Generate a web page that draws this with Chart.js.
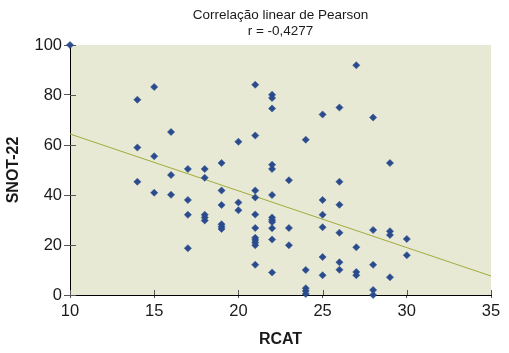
<!DOCTYPE html>
<html><head><meta charset="utf-8">
<script src="https://cdn.jsdelivr.net/npm/chart.js@4"></script>
<style>html,body{margin:0;padding:0;background:#fff}</style>
</head><body>
<canvas id="c" width="509" height="353"></canvas>
<script>
const titleLines = ['Correlação linear de Pearson', 'r = -0,4277'];
const xTitle = 'RCAT';
const yTitle = 'SNOT-22';
const xTicks = [10, 15, 20, 25, 30, 35];
const yTicks = [0, 20, 40, 60, 80, 100];

// RCAT values (x) and SNOT-22 values (y), one entry per patient
const rcat = [
  10,
  14, 14, 14,
  15, 15, 15,
  16, 16, 16,
  17, 17, 17, 17,
  18, 18, 18, 18, 18,
  19, 19, 19, 19, 19, 19,
  20, 20, 20,
  21, 21, 21, 21, 21, 21, 21, 21, 21, 21, 21,
  22, 22, 22, 22, 22, 22, 22, 22, 22, 22, 22, 22,
  23, 23, 23,
  24, 24, 24, 24, 24,
  25, 25, 25, 25, 25, 25,
  26, 26, 26, 26, 26, 26,
  27, 27, 27, 27,
  28, 28, 28, 28, 28,
  29, 29, 29, 29,
  30, 30
];
const snot = [
  100,
  78.1, 59.0, 45.3,
  83.2, 55.5, 40.9,
  65.2, 48.0, 40.1,
  50.4, 38.0, 32.1, 18.7,
  50.4, 46.9, 32.1, 31.0, 29.8,
  52.8, 41.8, 36.0, 28.3, 27.3, 26.4,
  61.3, 37.0, 33.9,
  84.1, 63.8, 41.8, 39.0, 32.2, 26.8, 22.9, 22.0, 21.0, 19.9, 12.1,
  80.1, 78.8, 74.6, 52.1, 50.4, 40.0, 31.0, 30.0, 29.2, 26.7, 22.2, 9.0,
  45.9, 26.8, 19.9,
  62.1, 10.0, 2.7, 1.6, 0.4,
  72.2, 38.0, 32.1, 27.1, 15.2, 7.9,
  75.0, 45.3, 36.1, 24.9, 13.1, 10.1,
  91.9, 19.1, 9.2, 7.9,
  71.0, 26.0, 12.1, 2.0, 0,
  52.8, 25.5, 24.0, 7.1,
  22.4, 15.9
];
// Linear trend line end points
const trendX = [10, 35];
const trendY = [64.4, 7.6];

const FONT = '"Liberation Sans", Arial, Helvetica, sans-serif';
const points = rcat.map((x, i) => ({x: x, y: snot[i]}));
const trend = trendX.map((x, i) => ({x: x, y: trendY[i]}));

const plotBg = {
  id: 'plotBg',
  beforeDraw(chart) {
    const {ctx, chartArea: a} = chart;
    ctx.save();
    ctx.fillStyle = '#e7e9d5';
    ctx.fillRect(a.left, a.top, a.right - a.left, a.bottom - a.top);
    ctx.restore();
  }
};
const innerTicks = {
  id: 'innerTicks',
  beforeDatasetsDraw(chart) {
    const {ctx, chartArea: a, scales} = chart;
    ctx.save();
    ctx.strokeStyle = '#555';
    ctx.lineWidth = 1;
    ctx.beginPath();
    scales.x.ticks.forEach(t => {
      const px = Math.round(scales.x.getPixelForValue(t.value)) + 0.5;
      ctx.moveTo(px, a.bottom); ctx.lineTo(px, a.bottom - 5);
    });
    scales.y.ticks.forEach(t => {
      const py = Math.round(scales.y.getPixelForValue(t.value)) + 0.5;
      ctx.moveTo(a.left, py); ctx.lineTo(a.left + 6, py);
    });
    ctx.stroke();
    ctx.restore();
  }
};

new Chart(document.getElementById('c'), {
  type: 'scatter',
  data: {
    datasets: [
      {
        data: points,
        pointStyle: 'rectRot',
        pointRadius: 3.6,
        backgroundColor: '#2a4b8d',
        borderColor: '#2a4b8d',
        borderWidth: 0.5,
        clip: false,
        order: 1
      },
      {
        data: trend,
        showLine: true,
        pointRadius: 0,
        borderColor: '#a0ab3a',
        borderWidth: 1,
        fill: false,
        order: 2
      }
    ]
  },
  options: {
    responsive: false,
    animation: false,
    layout: {padding: {left: 0, right: 18, top: 0, bottom: 0}},
    plugins: {
      legend: {display: false},
      tooltip: {enabled: false},
      title: {
        display: true,
        fullSize: false,
        text: titleLines,
        color: '#1a1a1a',
        font: {family: FONT, size: 13.5, weight: 'normal', lineHeight: 16 / 13.5},
        padding: {top: 7, bottom: 6}
      }
    },
    scales: {
      x: {
        type: 'linear',
        min: xTicks[0], max: xTicks[xTicks.length - 1],
        afterBuildTicks(s) { s.ticks = xTicks.map(v => ({value: v})); },
        afterFit(s) { s.height = 58; },
        ticks: {color: '#1a1a1a', font: {family: FONT, size: 16.5}, padding: 4, maxRotation: 0},
        grid: {drawOnChartArea: false, drawTicks: true, tickLength: 3, color: '#555'},
        border: {display: true, color: '#000', width: 1},
        title: {display: true, text: xTitle, color: '#1a1a1a', font: {family: FONT, size: 16, weight: 'bold'}, padding: {top: 4, bottom: 4}}
      },
      y: {
        type: 'linear',
        min: yTicks[0], max: yTicks[yTicks.length - 1],
        afterBuildTicks(s) { s.ticks = yTicks.map(v => ({value: v})); },
        afterFit(s) { s.width = 70; },
        ticks: {color: '#1a1a1a', font: {family: FONT, size: 16.5}, padding: 2},
        grid: {drawOnChartArea: false, drawTicks: true, tickLength: 6, color: '#555'},
        border: {display: true, color: '#000', width: 1},
        title: {display: true, text: yTitle, color: '#1a1a1a', font: {family: FONT, size: 16, weight: 'bold'}, padding: {top: 4, bottom: 4}}
      }
    }
  },
  plugins: [plotBg, innerTicks]
});
</script>
</body></html>
